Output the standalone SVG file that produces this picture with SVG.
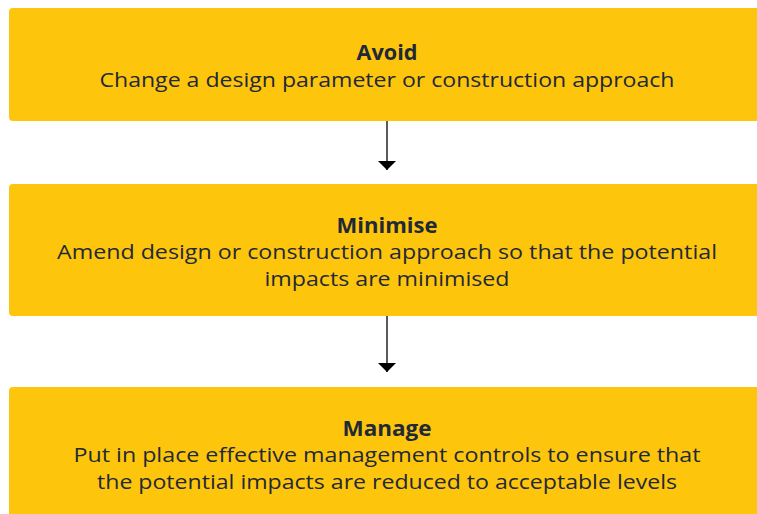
<svg xmlns="http://www.w3.org/2000/svg" width="757" height="514" viewBox="0 0 757 514">
<style>
.box{fill:#FDC50C}
.t{font-family:"Open Sans","Noto Sans",sans-serif;fill:#1F2937;text-anchor:middle;font-size:20.5px}
.b{font-weight:bold;font-size:21px}
.c{stroke:#000;stroke-width:1.3;fill:none}
</style>
<defs>
<marker id="ah" markerWidth="9" markerHeight="18" refX="9" refY="9" orient="auto" markerUnits="userSpaceOnUse">
<path d="M0,0 L9,9 L0,18 Z" fill="#000"/>
</marker>
</defs>
<rect width="757" height="514" fill="#fff"/>
<g id="avoid">
<rect class="box" x="9" y="8" width="760" height="113" rx="4"/>
<text class="t b" x="387" y="60" textLength="61" lengthAdjust="spacingAndGlyphs">Avoid</text>
<text class="t" x="387" y="87" textLength="575" lengthAdjust="spacingAndGlyphs">Change a design parameter or construction approach</text>
</g>
<g id="minimise">
<rect class="box" x="9" y="184" width="760" height="132" rx="4"/>
<text class="t b" x="387" y="233" textLength="101" lengthAdjust="spacingAndGlyphs">Minimise</text>
<text class="t" x="387" y="259" textLength="660" lengthAdjust="spacingAndGlyphs">Amend design or construction approach so that the potential</text>
<text class="t" x="387" y="286" textLength="245" lengthAdjust="spacingAndGlyphs">impacts are minimised</text>
</g>
<g id="manage">
<rect class="box" x="9" y="387" width="760" height="140" rx="4"/>
<text class="t b" x="387" y="436" textLength="89" lengthAdjust="spacingAndGlyphs">Manage</text>
<text class="t" x="387" y="462" textLength="627" lengthAdjust="spacingAndGlyphs">Put in place effective management controls to ensure that</text>
<text class="t" x="387" y="489" textLength="580" lengthAdjust="spacingAndGlyphs">the potential impacts are reduced to acceptable levels</text>
</g>
<g id="connectors">
<line class="c" x1="387" y1="121" x2="387" y2="170" marker-end="url(#ah)"/>
<line class="c" x1="387" y1="316" x2="387" y2="372" marker-end="url(#ah)"/>
</g>
</svg>
